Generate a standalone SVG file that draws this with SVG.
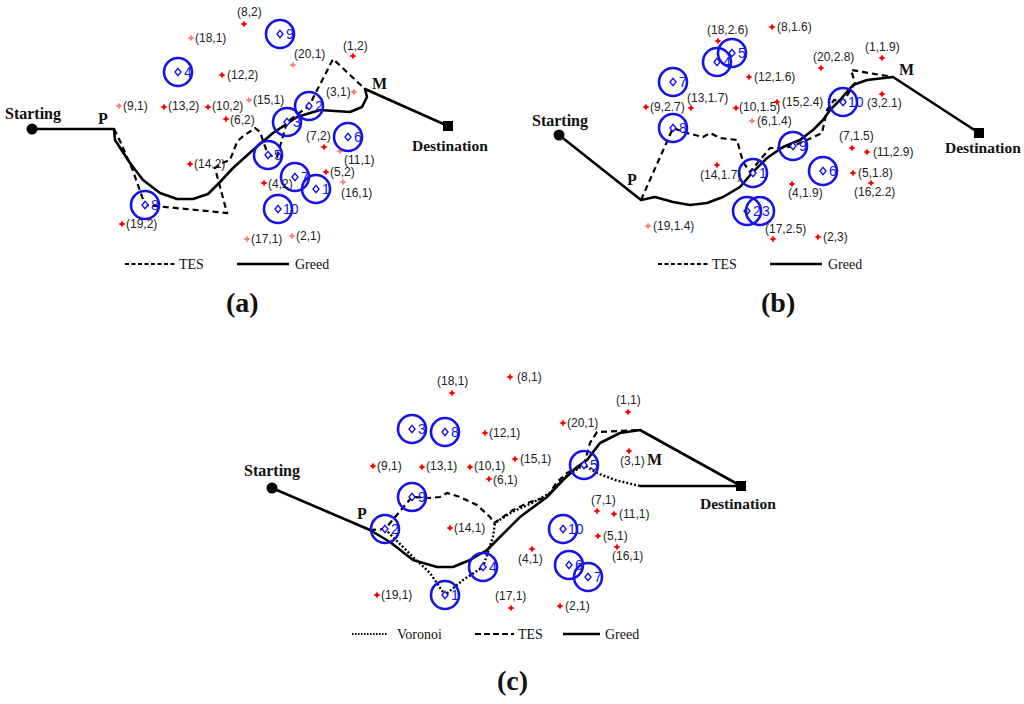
<svg xmlns="http://www.w3.org/2000/svg" xmlns:xlink="http://www.w3.org/1999/xlink" width="1024" height="704" viewBox="0 0 1024 704">
<style>
.bg{fill:#fff}
.nc{fill:none;stroke:#1414e8;stroke-width:2.6}
.nt{font-family:"Liberation Sans",Arial,sans-serif;font-size:14px;fill:#1414e8}
.lb{font-family:"Liberation Sans",Arial,sans-serif;font-size:12px;fill:#222}
.lt{opacity:0.5}
.bt{font-family:"Liberation Serif","Times New Roman",serif;font-weight:bold;font-size:16px;fill:#111}
.lg{font-family:"Liberation Serif","Times New Roman",serif;font-size:14px;fill:#111}
.cap{font-family:"Liberation Serif","Times New Roman",serif;font-weight:bold;font-size:28px;fill:#111}
.greed{fill:none;stroke:#000;stroke-width:2.6;stroke-linejoin:round}
.tes{fill:none;stroke:#000;stroke-width:2.2;stroke-dasharray:6 4}
.vor{fill:none;stroke:#000;stroke-width:2.4;stroke-dasharray:2 2}
</style>
<defs>
<path id="m" d="M0,-3.6 L1.2,-1.2 L3.6,0 L1.2,1.2 L0,3.6 L-1.2,1.2 L-3.6,0 L-1.2,-1.2Z" fill="#ff0000"/>
<path id="d" d="M0,-3.6 L3,0 L0,3.6 L-3,0Z" fill="#fff" stroke="#1414e8" stroke-width="1.4"/>
<circle id="c" r="14" class="nc"/>
</defs>
<rect class="bg" width="1024" height="704"/>

<!-- ============ Panel (a) ============ -->
<g id="a-connectors">
<path class="greed" d="M32,129 L114,129 L115,140 L130,163 L143,180 L160,193 L177,199 L193,199 L208,194 L220,182 L233,168 L253,150 L273,133 L297,117 L320,110 L350,112 L362,107 L367,97 L365,89 L448,126"/>
<path class="tes" d="M114,129 L120,141 L133,171 L145,205 L227,213 L215,168 L222,163 L230,160 L237,142 L242,137 L255,128 L260,132 L268,155 L277,157 L287,122 L309,106 L333,59 L365,89"/>
</g>
<g id="a-start"><circle cx="32" cy="129" r="5.5" fill="#000"/><text class="bt" x="5" y="119">Starting</text></g>
<g id="a-dest"><rect x="443" y="121" width="10" height="10" fill="#000"/><text class="bt" x="412" y="151" style="font-size:15.5px">Destination</text></g>
<g id="a-P"><text class="bt" x="98" y="124">P</text></g>
<g id="a-M"><text class="bt" x="372" y="89">M</text></g>
<g id="a-n1"><use href="#c" x="316" y="189"/><use href="#d" x="316" y="189"/><text class="nt" x="322" y="194">1</text></g>
<g id="a-n2"><use href="#c" x="309" y="106"/><use href="#d" x="309" y="106"/><text class="nt" x="315" y="111">2</text></g>
<g id="a-n3"><use href="#c" x="287" y="122"/><use href="#d" x="287" y="122"/><text class="nt" x="293" y="127">3</text></g>
<g id="a-n4"><use href="#c" x="178" y="72"/><use href="#d" x="178" y="72"/><text class="nt" x="184" y="77">4</text></g>
<g id="a-n5"><use href="#c" x="268" y="155"/><use href="#d" x="268" y="155"/><text class="nt" x="274" y="160">5</text></g>
<g id="a-n6"><use href="#c" x="348" y="137"/><use href="#d" x="348" y="137"/><text class="nt" x="354" y="142">6</text></g>
<g id="a-n7"><use href="#c" x="295" y="177"/><use href="#d" x="295" y="177"/><text class="nt" x="301" y="182">7</text></g>
<g id="a-n8"><use href="#c" x="145" y="205"/><use href="#d" x="145" y="205"/><text class="nt" x="151" y="210">8</text></g>
<g id="a-n9"><use href="#c" x="280" y="34"/><use href="#d" x="280" y="34"/><text class="nt" x="286" y="39">9</text></g>
<g id="a-n10"><use href="#c" x="278" y="209"/><use href="#d" x="278" y="209"/><text class="nt" x="283" y="214">10</text></g>
<g id="a-points">
<use href="#m" x="244" y="24"/><text class="lb" x="237" y="16">(8,2)</text>
<use href="#m" x="191" y="38" class="lt"/><text class="lb" x="195" y="42">(18,1)</text>
<use href="#m" x="222" y="75"/><text class="lb" x="227" y="79">(12,2)</text>
<use href="#m" x="119" y="106" class="lt"/><text class="lb" x="123" y="110">(9,1)</text>
<use href="#m" x="164" y="107"/><text class="lb" x="168" y="110">(13,2)</text>
<use href="#m" x="208" y="107"/><text class="lb" x="212" y="110">(10,2)</text>
<use href="#m" x="226" y="119"/><text class="lb" x="230" y="124">(6,2)</text>
<use href="#m" x="190" y="164"/><text class="lb" x="194" y="168">(14,2)</text>
<use href="#m" x="122" y="224"/><text class="lb" x="126" y="228">(19,2)</text>
<use href="#m" x="247" y="239" class="lt"/><text class="lb" x="251" y="243">(17,1)</text>
<use href="#m" x="292" y="236" class="lt"/><text class="lb" x="296" y="240">(2,1)</text>
<use href="#m" x="249" y="100" class="lt"/><text class="lb" x="253" y="104">(15,1)</text>
<use href="#m" x="354" y="92" class="lt"/><text class="lb" x="326" y="96">(3,1)</text>
<use href="#m" x="293" y="65" class="lt"/><text class="lb" x="294" y="58">(20,1)</text>
<use href="#m" x="353" y="56"/><text class="lb" x="343" y="50">(1,2)</text>
<use href="#m" x="324" y="147"/><text class="lb" x="306" y="140">(7,2)</text>
<use href="#m" x="340" y="151" class="lt"/><text class="lb" x="344" y="164">(11,1)</text>
<use href="#m" x="326" y="172"/><text class="lb" x="330" y="176">(5,2)</text>
<use href="#m" x="343" y="182" class="lt"/><text class="lb" x="341" y="197">(16,1)</text>
<use href="#m" x="264" y="183"/><text class="lb" x="268" y="188">(4,2)</text>
</g>
<g id="a-legend">
<line class="tes" x1="125" y1="264" x2="176" y2="264" style="stroke-dasharray:4 2.5"/><text class="lg" x="179" y="269">TES</text>
<line class="greed" x1="237" y1="264" x2="289" y2="264"/><text class="lg" x="295" y="269">Greed</text>
<text class="cap" x="226" y="312">(a)</text>
</g>

<!-- ============ Panel (b) ============ -->
<g id="b-connectors">
<path class="greed" d="M559,135 L641,200 L655,197 L673,202 L690,205 L707,203 L723,197 L740,187 L752,173 L767,158 L783,147 L800,140 L813,130 L823,120 L830,110 L840,100 L853,85 L867,80 L893,77 L979,133"/>
<path class="tes" d="M641,200 L673,128 L687,133 L703,137 L710,133 L720,138 L737,140 L743,162 L750,172 L760,160 L770,148 L783,148 L793,146 L807,140 L822,133 L827,110 L834,100 L843,102 L855,83 L851,70 L893,77"/>
</g>
<g id="b-start"><circle cx="559" cy="135" r="5.5" fill="#000"/><text class="bt" x="532" y="126">Starting</text></g>
<g id="b-dest"><rect x="974" y="128" width="10" height="10" fill="#000"/><text class="bt" x="945" y="153" style="font-size:15.5px">Destination</text></g>
<g id="b-P"><text class="bt" x="627" y="185">P</text></g>
<g id="b-M"><text class="bt" x="899" y="75">M</text></g>
<g id="b-n1"><use href="#c" x="753" y="173"/><use href="#d" x="753" y="173"/><text class="nt" x="759" y="178">1</text></g>
<g id="b-n2"><use href="#c" x="747" y="211"/><use href="#d" x="747" y="211"/><text class="nt" x="753" y="216">2</text></g>
<g id="b-n3"><use href="#c" x="760" y="211"/><text class="nt" x="762" y="216">3</text></g>
<g id="b-n4"><use href="#c" x="717" y="62"/><use href="#d" x="717" y="62"/><text class="nt" x="723" y="67">4</text></g>
<g id="b-n5"><use href="#c" x="732" y="53"/><use href="#d" x="732" y="53"/><text class="nt" x="738" y="58">5</text></g>
<g id="b-n6"><use href="#c" x="823" y="171"/><use href="#d" x="823" y="171"/><text class="nt" x="829" y="176">6</text></g>
<g id="b-n7"><use href="#c" x="673" y="82"/><use href="#d" x="673" y="82"/><text class="nt" x="679" y="87">7</text></g>
<g id="b-n8"><use href="#c" x="673" y="128"/><use href="#d" x="673" y="128"/><text class="nt" x="679" y="133">8</text></g>
<g id="b-n9"><use href="#c" x="793" y="146"/><use href="#d" x="793" y="146"/><text class="nt" x="799" y="151">9</text></g>
<g id="b-n10"><use href="#c" x="843" y="102"/><use href="#d" x="843" y="102"/><text class="nt" x="848" y="107">10</text></g>
<g id="b-points">
<use href="#m" x="718" y="41"/><text class="lb" x="707" y="34">(18,2.6)</text>
<use href="#m" x="772" y="27"/><text class="lb" x="777" y="31">(8,1.6)</text>
<use href="#m" x="749" y="77"/><text class="lb" x="754" y="81">(12,1.6)</text>
<use href="#m" x="821" y="68"/><text class="lb" x="813" y="61">(20,2.8)</text>
<use href="#m" x="882" y="58"/><text class="lb" x="865" y="51">(1,1.9)</text>
<use href="#m" x="882" y="94"/><text class="lb" x="867" y="107">(3,2.1)</text>
<use href="#m" x="646" y="107"/><text class="lb" x="650" y="111">(9,2.7)</text>
<use href="#m" x="691" y="108"/><text class="lb" x="687" y="102">(13,1.7)</text>
<use href="#m" x="736" y="108"/><text class="lb" x="739" y="111">(10,1.5)</text>
<use href="#m" x="777" y="102"/><text class="lb" x="782" y="106">(15,2.4)</text>
<use href="#m" x="752" y="121" class="lt"/><text class="lb" x="757" y="125">(6,1.4)</text>
<use href="#m" x="717" y="165"/><text class="lb" x="700" y="179">(14,1.7)</text>
<use href="#m" x="648" y="226" class="lt"/><text class="lb" x="653" y="230">(19,1.4)</text>
<use href="#m" x="773" y="239"/><text class="lb" x="765" y="233">(17,2.5)</text>
<use href="#m" x="818" y="237"/><text class="lb" x="823" y="241">(2,3)</text>
<use href="#m" x="792" y="184"/><text class="lb" x="788" y="197">(4,1.9)</text>
<use href="#m" x="852" y="148"/><text class="lb" x="839" y="140">(7,1.5)</text>
<use href="#m" x="867" y="152"/><text class="lb" x="873" y="156">(11,2.9)</text>
<use href="#m" x="853" y="173"/><text class="lb" x="858" y="177">(5,1.8)</text>
<use href="#m" x="871" y="183"/><text class="lb" x="854" y="196">(16,2.2)</text>
</g>
<g id="b-legend">
<line class="tes" x1="658" y1="264" x2="709" y2="264" style="stroke-dasharray:4 2.5"/><text class="lg" x="712" y="269">TES</text>
<line class="greed" x1="770" y1="264" x2="822" y2="264"/><text class="lg" x="828" y="269">Greed</text>
<text class="cap" x="761" y="312">(b)</text>
</g>

<!-- ============ Panel (c) ============ -->
<g id="c-connectors">
<path class="greed" d="M272,488 L370,530 L390,542 L413,560 L437,567 L453,567 L470,560 L487,550 L500,537 L520,517 L547,497 L563,480 L577,467 L587,460 L600,443 L620,433 L640,430 L741,486"/>
<path class="greed" d="M640,486 L741,486"/>
<path class="tes" d="M370,530 L385,529 L412,497 L430,498 L440,497 L447,493 L460,497 L477,505 L490,517 L494,523 L513,510 L530,502 L547,497 L557,482 L567,473 L584,465 L590,443 L597,432 L640,430"/>
<path class="vor" d="M385,529 L393,537 L413,557 L430,573 L445,595 L463,580 L483,567 L493,537 L495,523 L512,512 L532,503 L550,493 L565,477 L584,465 L597,473 L615,480 L640,486"/>
</g>
<g id="c-start"><circle cx="272" cy="488" r="5.5" fill="#000"/><text class="bt" x="244" y="476">Starting</text></g>
<g id="c-dest"><rect x="736" y="481" width="10" height="10" fill="#000"/><text class="bt" x="700" y="509" style="font-size:15.5px">Destination</text></g>
<g id="c-P"><text class="bt" x="357" y="519">P</text></g>
<g id="c-M"><text class="bt" x="647" y="465">M</text></g>
<g id="c-n1"><use href="#c" x="445" y="595"/><use href="#d" x="445" y="595"/><text class="nt" x="451" y="600">1</text></g>
<g id="c-n2"><use href="#c" x="385" y="529"/><use href="#d" x="385" y="529"/><text class="nt" x="391" y="534">2</text></g>
<g id="c-n3"><use href="#c" x="412" y="429"/><use href="#d" x="412" y="429"/><text class="nt" x="418" y="434">3</text></g>
<g id="c-n4"><use href="#c" x="483" y="567"/><use href="#d" x="483" y="567"/><text class="nt" x="489" y="572">4</text></g>
<g id="c-n5"><use href="#c" x="584" y="465"/><use href="#d" x="584" y="465"/><text class="nt" x="590" y="470">5</text></g>
<g id="c-n6"><use href="#c" x="569" y="565"/><use href="#d" x="569" y="565"/><text class="nt" x="575" y="570">6</text></g>
<g id="c-n7"><use href="#c" x="588" y="577"/><use href="#d" x="588" y="577"/><text class="nt" x="594" y="582">7</text></g>
<g id="c-n8"><use href="#c" x="445" y="432"/><use href="#d" x="445" y="432"/><text class="nt" x="451" y="437">8</text></g>
<g id="c-n9"><use href="#c" x="412" y="497"/><use href="#d" x="412" y="497"/><text class="nt" x="418" y="502">9</text></g>
<g id="c-n10"><use href="#c" x="563" y="529"/><use href="#d" x="563" y="529"/><text class="nt" x="568" y="534">10</text></g>
<g id="c-points">
<use href="#m" x="452" y="393"/><text class="lb" x="437" y="385">(18,1)</text>
<use href="#m" x="510" y="377"/><text class="lb" x="517" y="381">(8,1)</text>
<use href="#m" x="485" y="433"/><text class="lb" x="489" y="437">(12,1)</text>
<use href="#m" x="373" y="466"/><text class="lb" x="377" y="470">(9,1)</text>
<use href="#m" x="422" y="467"/><text class="lb" x="426" y="470">(13,1)</text>
<use href="#m" x="470" y="467"/><text class="lb" x="474" y="470">(10,1)</text>
<use href="#m" x="489" y="479"/><text class="lb" x="493" y="484">(6,1)</text>
<use href="#m" x="450" y="528"/><text class="lb" x="454" y="532">(14,1)</text>
<use href="#m" x="377" y="595"/><text class="lb" x="381" y="599">(19,1)</text>
<use href="#m" x="511" y="608"/><text class="lb" x="495" y="600">(17,1)</text>
<use href="#m" x="560" y="606"/><text class="lb" x="565" y="610">(2,1)</text>
<use href="#m" x="532" y="549"/><text class="lb" x="518" y="563">(4,1)</text>
<use href="#m" x="515" y="459"/><text class="lb" x="520" y="463">(15,1)</text>
<use href="#m" x="563" y="423"/><text class="lb" x="567" y="427">(20,1)</text>
<use href="#m" x="628" y="412"/><text class="lb" x="616" y="404">(1,1)</text>
<use href="#m" x="629" y="451"/><text class="lb" x="620" y="465">(3,1)</text>
<use href="#m" x="597" y="511"/><text class="lb" x="591" y="504">(7,1)</text>
<use href="#m" x="614" y="514"/><text class="lb" x="619" y="518">(11,1)</text>
<use href="#m" x="598" y="536"/><text class="lb" x="603" y="540">(5,1)</text>
<use href="#m" x="617" y="547"/><text class="lb" x="612" y="560">(16,1)</text>
</g>
<g id="c-legend">
<line class="vor" x1="352" y1="634" x2="388" y2="634" style="stroke-dasharray:1.5 1.5;stroke-width:2"/><text class="lg" x="397" y="639">Voronoi</text>
<line class="tes" x1="475" y1="634" x2="514" y2="634" style="stroke-dasharray:6 3"/><text class="lg" x="518" y="639">TES</text>
<line class="greed" x1="563" y1="634" x2="600" y2="634"/><text class="lg" x="605" y="639">Greed</text>
<text class="cap" x="497" y="690">(c)</text>
</g>
</svg>
